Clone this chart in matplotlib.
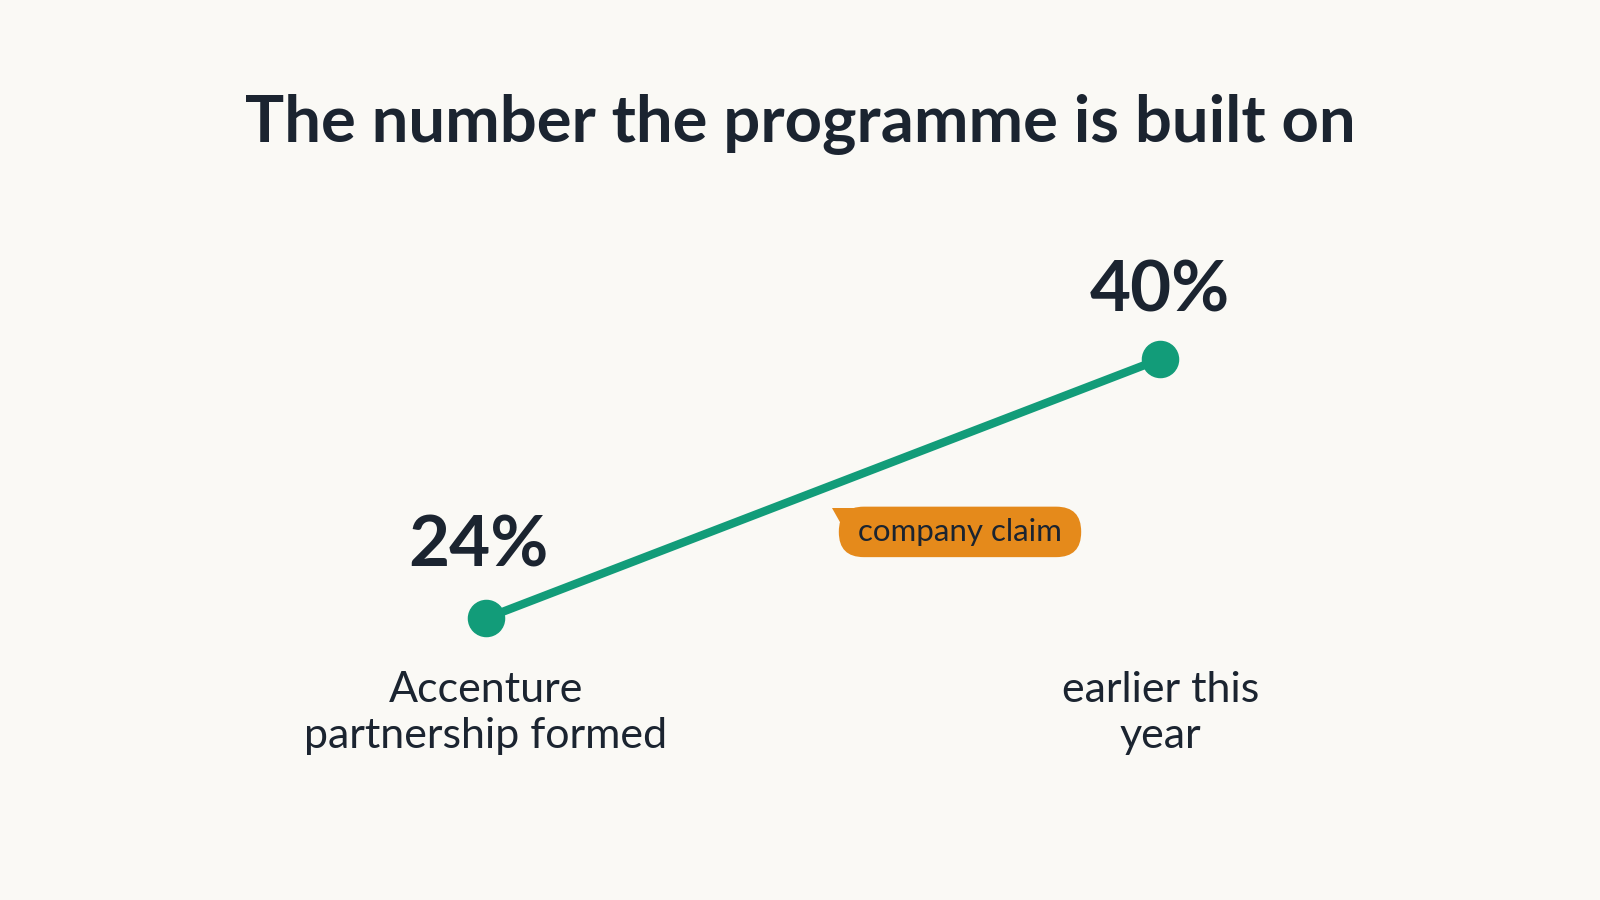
import matplotlib.pyplot as plt
from matplotlib.patches import Polygon
from matplotlib.transforms import blended_transform_factory

# chart data
stages = ['Accenture\npartnership formed', 'earlier this\nyear']
share = [24, 40]
value_labels = ['24%', '40%']
title = 'The number the programme is built on'
badge_text = 'company claim'

bg = '#faf9f5'
ink = '#1b2430'
green = '#129c79'
orange = '#e58a1b'

plt.rcParams['font.family'] = ['Lato', 'DejaVu Sans']

fig = plt.figure(figsize=(16, 9), dpi=100, facecolor=bg)
ax = fig.add_axes([0.3036, 0.313, 0.4215, 0.288])
ax.set_facecolor('none')
ax.set_xlim(0, 1)
ax.set_ylim(24, 40)
ax.axis('off')

xs = list(range(len(share)))
ax.plot(xs, share, color=green, lw=6, solid_capstyle='round', clip_on=False, zorder=2)
ax.plot(xs, share, 'o', color=green, ms=26, clip_on=False, zorder=3)

# value labels above each point, slight left shift for the first
offsets = [(-5, 37), (0, 34)]
for x, y, lab, off in zip(xs, share, value_labels, offsets):
    ax.annotate(lab, (x, y), xytext=off, textcoords='offset points',
                ha='center', va='baseline', fontsize=51, fontweight='bold', color=ink)

# stage labels on a shared line below the chart
below = blended_transform_factory(ax.transData, fig.transFigure)
for x, lab in zip(xs, stages):
    ax.text(x, 0.254, lab, transform=below, ha='center', va='top', fontsize=31,
            color=ink, linespacing=1.25)

fig.text(0.5, 0.862, title, ha='center', va='center', fontsize=47,
         fontweight='bold', color=ink)

# "company claim" badge with a small pointed corner at top-left
fig.text(0.6, 0.409, f' {badge_text} ', ha='center', va='center', fontsize=22.5, color=ink,
         bbox=dict(boxstyle='round,pad=0.36,rounding_size=0.8', fc=orange, ec='none'))
fig.patches.append(Polygon([[0.520, 0.4355], [0.545, 0.4355], [0.545, 0.41], [0.528, 0.41]],
                           closed=True, transform=fig.transFigure, fc=orange, ec='none'))

fig.savefig('out.png', dpi=100, facecolor=bg)
